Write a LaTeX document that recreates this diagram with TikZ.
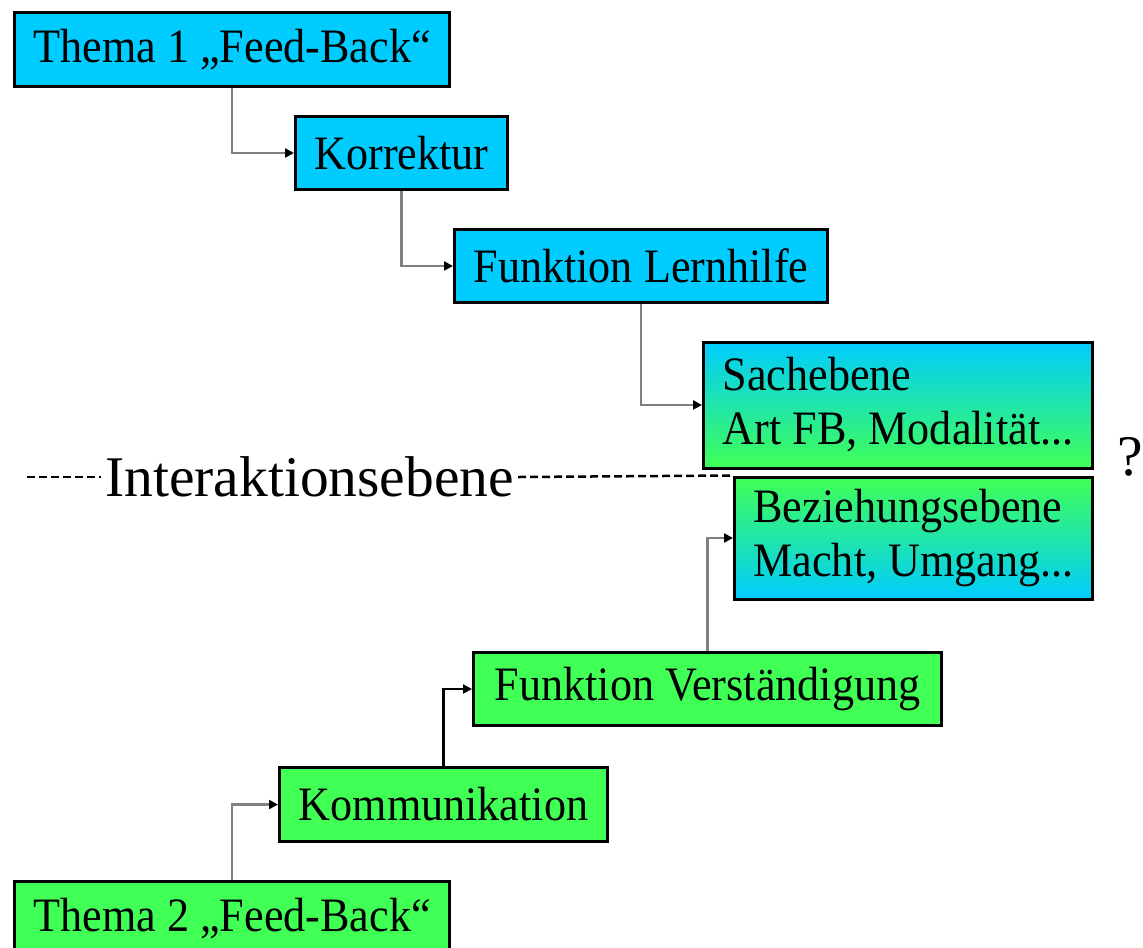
\documentclass[tikz,border=0pt]{standalone}
\usepackage{fontspec}
\setmainfont{Liberation Serif}[FakeStretch=0.92]
\newfontfamily\breitserif{Liberation Serif}
\usepackage{tikz}
\usetikzlibrary{positioning, arrows.meta}

\definecolor{thblau}{RGB}{0,204,255}
\definecolor{thgruen}{RGB}{64,255,85}

\begin{document}
\begin{tikzpicture}[x=0.4pt, y=-0.4pt,
    box/.style={draw, line width=1.2pt, font=\fontsize{19.2}{21.6}\selectfont, inner xsep=7.6pt, inner ysep=0pt, minimum height=29.4pt, anchor=west},
    blau/.style={box, fill=thblau},
    gruen/.style={box, fill=thgruen},
    link/.style={draw=gray, line width=1pt, -{Triangle[length=3.6pt, width=3.6pt, color=black]}},
    trenn/.style={dash pattern=on 3.2pt off 1.6pt, line width=1pt}]
    \useasboundingbox (0,0) rectangle (1143,947);
    \clip (0,0) rectangle (1143,947);

    % Thema 1
    \node[blau, minimum width=174pt] (thema1) at (13,49.5) {Thema 1 „Feed-Back“};
    \node[blau, minimum width=84.4pt] (korrektur) at (294,153) {Korrektur};
    \node[blau, minimum width=148.8pt] (lernhilfe) at (453,266) {Funktion Lernhilfe};
    \node[box, top color=thblau, bottom color=thgruen, align=left, minimum width=155.6pt, minimum height=50.4pt] (sach) at (702,405) {Sachebene\\Art FB, Modalität...};

    % Thema 2
    \node[gruen, minimum width=174pt] (thema2) at (13,918.5) {Thema 2 „Feed-Back“};
    \node[gruen, minimum width=131.2pt] (komm) at (278,804.5) {Kommunikation};
    \node[gruen, minimum width=187.2pt] (verst) at (472,689) {Funktion Verständigung};
    \node[box, top color=thgruen, bottom color=thblau, align=left, minimum width=143.2pt, minimum height=48.8pt] (bez) at (733,538) {Beziehungsebene\\Macht, Umgang...};

    \draw[link] (thema1.south) |- (korrektur.west);
    \draw[link] (korrektur.south) |- (lernhilfe.west);
    \draw[link] (lernhilfe.south) |- (sach.west);
    \draw[link] (thema2.north) |- (komm.west);
    \draw[link, draw=black] (komm.north) |- (verst.west);
    \draw[link] (verst.north) |- (bez.west);

    % Trennlinie
    \node[font=\breitserif\fontsize{23}{27}\selectfont, inner sep=1.5pt, anchor=west] (iebene) at (101,477) {Interaktionsebene};
    \coordinate (dl) at (27,477);
    \draw[trenn] (dl) -- (iebene.west);
    \draw[trenn] (iebene.east) -- (bez.north west);
    \node[font=\breitserif\fontsize{23}{27}\selectfont] (frage) at (1130,457) {?};
\end{tikzpicture}
\end{document}
